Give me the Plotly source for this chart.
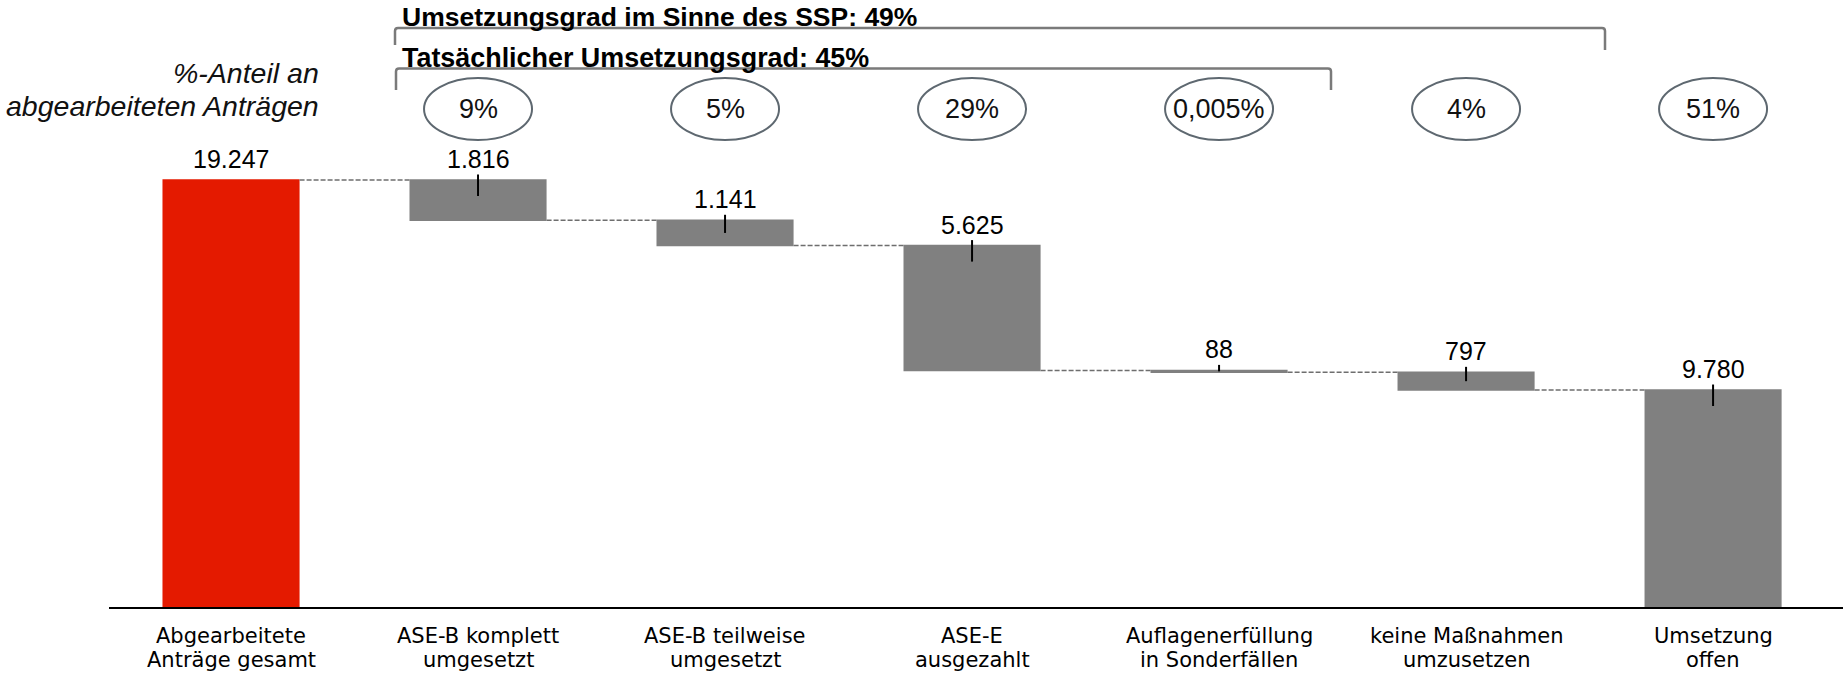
import plotly.graph_objects as go

# ---------------- data ----------------
cat_line1 = ["Abgearbeitete", "ASE-B komplett", "ASE-B teilweise", "ASE-E",
             "Auflagenerfüllung", "keine Maßnahmen", "Umsetzung"]
cat_line2 = ["Anträge gesamt", "umgesetzt", "umgesetzt", "ausgezahlt",
             "in Sonderfällen", "umzusetzen", "offen"]
start_total = 19247
reductions = [1816, 1141, 5625, 88, 797]
shares = ["9%", "5%", "29%", "0,005%", "4%", "51%"]   # for bars 2..7
heading_ssp = "Umsetzungsgrad im Sinne des SSP: 49%"
heading_act = "Tatsächlicher Umsetzungsgrad: 45%"
side_note = ["%-Anteil an", "abgearbeiteten Anträgen"]

# ---------------- derived ----------------
n = len(cat_line1)
xpos = list(range(n))
wf_y = [start_total] + [-r for r in reductions] + [0]
measures = ["relative"] * (n - 1) + ["total"]
levels = [start_total]
for r in reductions:
    levels.append(levels[-1] - r)
end_total = levels[-1]
tops = [start_total] + levels[:-1] + [end_total]
bottoms = [0] + levels[1:] + [0]
label_vals = [start_total] + reductions + [end_total]

def de_fmt(v):
    return f"{v:,}".replace(",", ".")

# ---------------- geometry ----------------
W, H = 1843, 675
L, R, T, B = 109, 0, 0, 68
PLOT_H = H - T - B
PLOT_W = W - L - R
X_MIN, X_MAX = -0.494, 6.526
Y_MAX = 27360
PPX = PLOT_W / (X_MAX - X_MIN)
PPY = PLOT_H / Y_MAX

def xd(px):
    return X_MIN + (px - L) / PPX

def yp(py):
    return (T + PLOT_H - py) / PLOT_H

RED = "#E41A00"
GRAY = "#808080"
ELL = "#5E6870"
BR = "#7A7A7A"
FONT = "Liberation Sans, Arial, sans-serif"
WIDE = "DejaVu Sans, sans-serif"

fig = go.Figure()
fig.add_trace(go.Waterfall(
    x=xpos, y=wf_y, measure=measures, width=[0.555] * n,
    increasing=dict(marker=dict(color=RED, line=dict(width=0))),
    decreasing=dict(marker=dict(color=GRAY, line=dict(width=0))),
    totals=dict(marker=dict(color=GRAY, line=dict(width=0))),
    connector=dict(mode="between", line=dict(color="#6E6E6E", width=1.5, dash="5px,2px")),
    textposition="none", hoverinfo="skip", showlegend=False,
))

# small tick marks on bars 2..7
tx, ty = [], []
for i in range(1, n):
    h_px = (tops[i] - bottoms[i]) * PPY
    below = min(h_px / 2, 16) / PPY
    above = 5.5 / PPY
    tx += [i, i, None]
    ty += [tops[i] + above, tops[i] - below, None]
fig.add_trace(go.Scatter(x=tx, y=ty, mode="lines", line=dict(color="black", width=2),
                         hoverinfo="skip", showlegend=False, cliponaxis=False))

ann = []
# value labels
for i in range(n):
    ann.append(dict(x=i, y=tops[i], xref="x", yref="y", text=de_fmt(label_vals[i]),
                    showarrow=False, yanchor="middle", xanchor="center", yshift=21,
                    font=dict(family=FONT, size=25, color="black")))
# category labels
for i in range(n):
    ann.append(dict(x=i, y=yp(636), xref="x", yref="paper", text=cat_line1[i],
                    showarrow=False, yanchor="middle", xanchor="center",
                    font=dict(family=WIDE, size=21, color="black")))
    ann.append(dict(x=i, y=yp(660), xref="x", yref="paper", text=cat_line2[i],
                    showarrow=False, yanchor="middle", xanchor="center",
                    font=dict(family=WIDE, size=21, color="black")))
# share ellipses text
shapes = []
ELL_CY, ELL_H, ELL_W = 109, 62, 108
for k, s in enumerate(shares):
    i = k + 1
    ann.append(dict(x=i, y=yp(ELL_CY), xref="x", yref="paper", text=s,
                    showarrow=False, yanchor="middle", xanchor="center",
                    font=dict(family=FONT, size=27, color="#111111")))
    hw = ELL_W / 2 / PPX
    shapes.append(dict(type="circle", xref="x", yref="paper",
                       x0=i - hw, x1=i + hw, y0=yp(ELL_CY + ELL_H / 2), y1=yp(ELL_CY - ELL_H / 2),
                       line=dict(color=ELL, width=2)))
# side note
ann.append(dict(x=xd(321), y=yp(73), xref="x", yref="paper", text="<i>" + side_note[0] + "</i>",
                showarrow=False, xanchor="right", yanchor="middle",
                font=dict(family=FONT, size=28.5, color="#111111")))
ann.append(dict(x=xd(321), y=yp(106), xref="x", yref="paper", text="<i>" + side_note[1] + "</i>",
                showarrow=False, xanchor="right", yanchor="middle",
                font=dict(family=FONT, size=28.5, color="#111111")))
# headings
ann.append(dict(x=xd(400), y=yp(17), xref="x", yref="paper", text="<b>" + heading_ssp + "</b>",
                showarrow=False, xanchor="left", yanchor="middle",
                font=dict(family=FONT, size=26.5, color="black")))
ann.append(dict(x=xd(400), y=yp(58), xref="x", yref="paper", text="<b>" + heading_act + "</b>",
                showarrow=False, xanchor="left", yanchor="middle",
                font=dict(family=FONT, size=26.9, color="black")))

# brackets
def bracket(xl, xr, ytop, yl_end, yr_end):
    r = 3
    return (f"M {xd(xl)} {yp(yl_end)} L {xd(xl)} {yp(ytop + r)} "
            f"Q {xd(xl)} {yp(ytop)} {xd(xl + r)} {yp(ytop)} "
            f"L {xd(xr - r)} {yp(ytop)} Q {xd(xr)} {yp(ytop)} {xd(xr)} {yp(ytop + r)} "
            f"L {xd(xr)} {yp(yr_end)}")

shapes.append(dict(type="path", xref="x", yref="paper", path=bracket(395, 1605, 28, 45, 50),
                   line=dict(color=BR, width=2.5)))
shapes.append(dict(type="path", xref="x", yref="paper", path=bracket(396, 1331, 68.5, 90, 90),
                   line=dict(color=BR, width=2.5)))

fig.update_layout(
    width=W, height=H, margin=dict(l=L, r=R, t=T, b=B),
    paper_bgcolor="white", plot_bgcolor="white",
    xaxis=dict(range=[X_MIN, X_MAX], showticklabels=False, showgrid=False, zeroline=False,
               showline=True, linecolor="black", linewidth=2, ticks="", fixedrange=True),
    yaxis=dict(range=[0, Y_MAX], showticklabels=False, showgrid=False, zeroline=False,
               showline=False, ticks="", fixedrange=True),
    annotations=ann, shapes=shapes, showlegend=False,
)

fig.write_html("out.html", config={"displayModeBar": False},
               post_script="document.body.style.margin='0';document.body.style.overflow='hidden';")
